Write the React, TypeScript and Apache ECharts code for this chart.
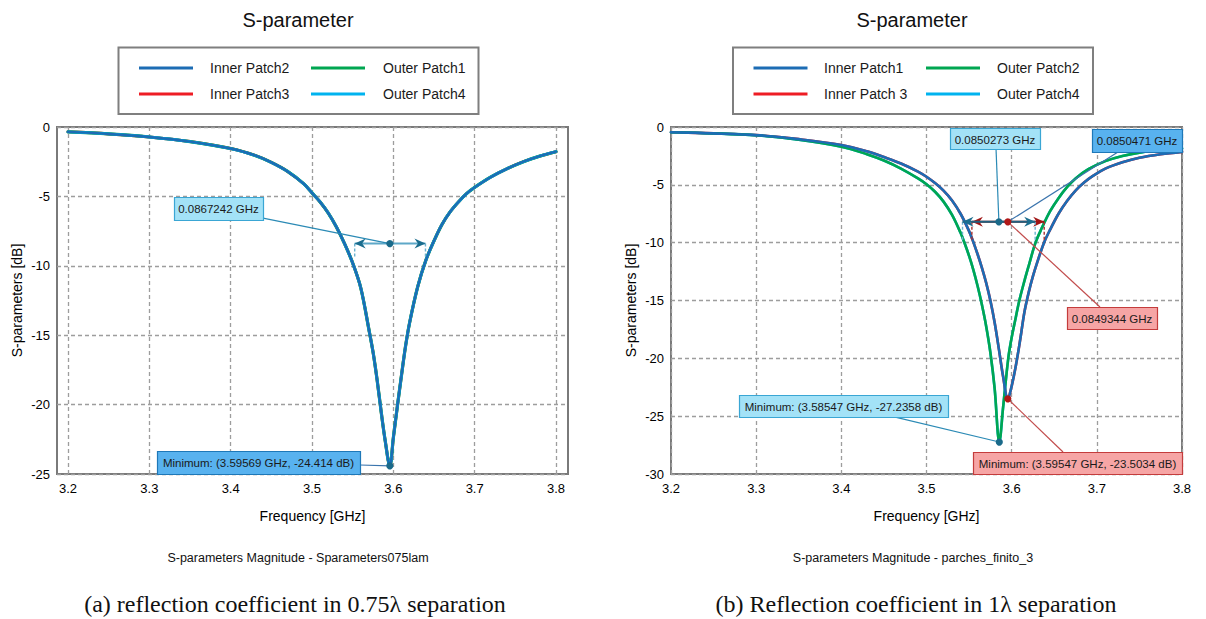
import React, { useEffect, useRef } from "react";
import * as echarts from "echarts";

type Pt = [number, number];

const SANS = '"Liberation Sans", Arial, Helvetica, sans-serif';
const SERIF = '"Liberation Serif", "Times New Roman", serif';

// ---------- texts ----------
const chartTitle = "S-parameter";
const xAxisName = "Frequency [GHz]";
const yAxisName = "S-parameters [dB]";
const sourceA = "S-parameters Magnitude - Sparameters075lam";
const sourceB = "S-parameters Magnitude - parches_finito_3";
const captionA = "(a) reflection coefficient in 0.75\u03bb separation";
const captionB = "(b) Reflection coefficient in 1\u03bb separation";

// ---------- ticks ----------
const freqTicks = [3.2, 3.3, 3.4, 3.5, 3.6, 3.7, 3.8];

// ---------- panel (a) data : all four ports coincide ----------
const namesA = ["Inner Patch2", "Inner Patch3", "Outer Patch1", "Outer Patch4"];
const s11A: Pt[] = [
  [3.2, -0.35], [3.25, -0.5], [3.3, -0.72], [3.35, -1.05], [3.4, -1.55], [3.43, -2.05],
  [3.45, -2.55], [3.47, -3.2], [3.49, -4.1], [3.5, -4.75], [3.51, -5.4], [3.52, -6.2],
  [3.53, -7.2], [3.54, -8.4], [3.55, -9.8], [3.56, -11.6], [3.57, -14.6], [3.575, -16.2],
  [3.58, -18.2], [3.585, -20.5], [3.59, -22.6], [3.5957, -24.41], [3.6, -22.4], [3.605, -20.1],
  [3.61, -17.9], [3.615, -15.8], [3.62, -14.1], [3.63, -11.5], [3.64, -9.6], [3.65, -8.2],
  [3.66, -7.0], [3.67, -6.1], [3.68, -5.4], [3.69, -4.8], [3.7, -4.35], [3.72, -3.6],
  [3.74, -3.0], [3.76, -2.5], [3.78, -2.1], [3.8, -1.78],
];

// ---------- panel (b) data ----------
const namesB = ["Inner Patch1", "Inner Patch 3", "Outer Patch2", "Outer Patch4"];
// inner patches (Inner Patch1 and Inner Patch 3 overlap)
const innerB: Pt[] = [
  [3.2, -0.45], [3.25, -0.55], [3.3, -0.7], [3.35, -1.05], [3.4, -1.55], [3.43, -2.1],
  [3.45, -2.6], [3.47, -3.15], [3.49, -3.85], [3.5, -4.3], [3.51, -4.85], [3.52, -5.5],
  [3.53, -6.35], [3.54, -7.5], [3.55, -9.0], [3.555, -9.95], [3.56, -11.0], [3.565, -12.15],
  [3.57, -13.45], [3.575, -15.0], [3.58, -16.9], [3.585, -19.2], [3.59, -21.6], [3.5955, -23.5],
  [3.6, -22.4], [3.605, -20.6], [3.61, -18.4], [3.615, -16.0], [3.62, -14.3], [3.625, -12.9],
  [3.63, -11.7], [3.638, -10.0], [3.645, -8.9], [3.655, -7.5], [3.665, -6.4], [3.675, -5.5],
  [3.685, -4.8], [3.695, -4.25], [3.71, -3.6], [3.73, -3.05], [3.75, -2.65], [3.775, -2.35], [3.8, -2.15],
];
// outer patches (Outer Patch2 and Outer Patch4 overlap)
const outerB: Pt[] = [
  [3.2, -0.45], [3.25, -0.55], [3.3, -0.72], [3.35, -1.1], [3.4, -1.7], [3.43, -2.35],
  [3.45, -2.9], [3.47, -3.6], [3.49, -4.45], [3.5, -4.95], [3.51, -5.6], [3.52, -6.45],
  [3.53, -7.6], [3.54, -9.15], [3.545, -10.1], [3.55, -11.15], [3.555, -12.35], [3.56, -13.75],
  [3.565, -15.35], [3.57, -17.2], [3.575, -19.5], [3.58, -22.6], [3.5855, -27.24], [3.59, -24.2],
  [3.596, -20.0], [3.6, -18.2], [3.605, -16.4], [3.609, -15.0], [3.615, -13.3], [3.62, -12.0],
  [3.628, -10.0], [3.635, -8.8], [3.645, -7.3], [3.655, -6.15], [3.665, -5.2], [3.675, -4.45],
  [3.69, -3.65], [3.71, -2.95], [3.73, -2.5], [3.755, -2.15], [3.78, -1.95], [3.8, -1.85],
];

// ---------- annotations (values from markers) ----------
const bandwidthA = [{ from: 3.5525, to: 3.6395, center: 3.5957, level: -8.4, drop: -9.4, tone: "tealLight" }];
const labelsA = [
  { text: "0.0867242 GHz", box: [3.3303, -5.04] as Pt, w: 89, h: 23, tone: "cyan", from: [3.4398, -6.56] as Pt, to: [3.5957, -8.4] as Pt },
  { text: "Minimum: (3.59569 GHz, -24.414 dB)", box: [3.3094, -23.34] as Pt, w: 203, h: 23, tone: "blue", from: [3.559, -24.35] as Pt, to: [3.59569, -24.414] as Pt },
];
const dotsA = [
  { at: [3.5957, -8.4] as Pt, tone: "teal" },
  { at: [3.59569, -24.414] as Pt, tone: "teal" },
];

const bandwidthB = [
  { from: 3.5533, to: 3.6382, center: 3.5955, level: -8.2, drop: -9.9, tone: "red" },
  { from: 3.5423, to: 3.6276, center: 3.585, level: -8.2, drop: -9.9, tone: "teal" },
];
const labelsB = [
  { text: "0.0850273 GHz", box: [3.5276, -0.09] as Pt, w: 90, h: 21, tone: "cyan", from: [3.5816, -1.82] as Pt, to: [3.585, -8.2] as Pt },
  { text: "0.0850471 GHz", box: [3.6943, -0.17] as Pt, w: 90, h: 23, tone: "blue", from: [3.7248, -2.16] as Pt, to: [3.5955, -8.2] as Pt },
  { text: "0.0849344 GHz", box: [3.665, -15.56] as Pt, w: 90, h: 22, tone: "red", from: [3.7037, -15.56] as Pt, to: [3.5955, -8.2] as Pt },
  { text: "Minimum: (3.58547 GHz, -27.2358 dB)", box: [3.2798, -23.17] as Pt, w: 209, h: 22, tone: "cyan", from: [3.4571, -24.98] as Pt, to: [3.58547, -27.2358] as Pt },
  { text: "Minimum: (3.59547 GHz, -23.5034 dB)", box: [3.5546, -28.1] as Pt, w: 209, h: 22, tone: "red", from: [3.6603, -28.1] as Pt, to: [3.59547, -23.5034] as Pt },
];
const dotsB = [
  { at: [3.585, -8.2] as Pt, tone: "teal" },
  { at: [3.5955, -8.2] as Pt, tone: "red" },
  { at: [3.58547, -27.2358] as Pt, tone: "teal" },
  { at: [3.59547, -23.5034] as Pt, tone: "red" },
];

// ---------- styles ----------
const colors = { blue: "#1c6cb4", red: "#ee1c24", green: "#00a651", cyan: "#00b3ef" };
const bwTones: any = {
  tealLight: { arrow: "#1b6d8e", line: "#5ea8c8", dash: "#6db3cf" },
  teal: { arrow: "#1b6d8e", line: "#22607f", dash: "#6db3cf" },
  red: { arrow: "#a01515", line: "#8c1a1a", dash: "#a83030" },
};
const boxTones: any = {
  cyan: { fill: "#a3e2f7", stroke: "#3aa6d4", leader: "#2b8ab5" },
  blue: { fill: "#58b2ef", stroke: "#1e78b8", leader: "#3a74ad" },
  red: { fill: "#f6a5a5", stroke: "#c43c3c", leader: "#c24d4d" },
};
const dotTones: any = { teal: "#1a6a8a", red: "#b01818" };

const annot = (bws: any[], labels: any[], dots: any[]) => (_p: any, api: any) => {
  const children: any[] = [];
  for (const b of bws) {
    const t = bwTones[b.tone];
    const p1 = api.coord([b.from, b.level]);
    const p2 = api.coord([b.to, b.level]);
    const yd = api.coord([b.from, b.drop])[1];
    const y = p1[1];
    for (const x of [p1[0], p2[0]]) {
      children.push({ type: "line", shape: { x1: x, y1: y, x2: x, y2: yd }, style: { stroke: t.dash, lineWidth: 1.4, lineDash: [3, 2] } });
    }
    children.push({ type: "line", shape: { x1: p1[0], y1: y, x2: p2[0], y2: y }, style: { stroke: t.line, lineWidth: 2 } });
    const a = 11, h = 5, n = 7.5;
    children.push({ type: "polygon", shape: { points: [[p1[0], y], [p1[0] + a, y - h], [p1[0] + n, y], [p1[0] + a, y + h]] }, style: { fill: t.arrow } });
    children.push({ type: "polygon", shape: { points: [[p2[0], y], [p2[0] - a, y - h], [p2[0] - n, y], [p2[0] - a, y + h]] }, style: { fill: t.arrow } });
  }
  for (const l of labels) {
    const t = boxTones[l.tone];
    const f = api.coord(l.from), to = api.coord(l.to), tl = api.coord(l.box);
    children.push({ type: "line", shape: { x1: f[0], y1: f[1], x2: to[0], y2: to[1] }, style: { stroke: t.leader, lineWidth: 1.2 } });
    children.push({ type: "rect", shape: { x: Math.round(tl[0]) + 0.5, y: Math.round(tl[1]) + 0.5, width: l.w, height: l.h }, style: { fill: t.fill, stroke: t.stroke, lineWidth: 1.2 } });
    children.push({
      type: "text", x: tl[0] + l.w / 2, y: tl[1] + l.h / 2 + 1,
      style: { text: l.text, fill: "#1a1a1a", font: `11.5px ${SANS}`, align: "center", verticalAlign: "middle", textAlign: "center", textVerticalAlign: "middle" },
    });
  }
  for (const d of dots) {
    const p = api.coord(d.at);
    children.push({ type: "circle", shape: { cx: p[0], cy: p[1], r: 3.6 }, style: { fill: dotTones[d.tone] } });
  }
  return { type: "group", children };
};

const lineSeries = (name: string, data: Pt[], color: string, width: number, idx: number, z: number) => ({
  type: "line", name, data, xAxisIndex: idx, yAxisIndex: idx, symbol: "none", showSymbol: false,
  smooth: 0.35, lineStyle: { color, width, join: "round", cap: "round" }, itemStyle: { color }, z, silent: true,
});

const xAxisCfg = (idx: number, min: number, max: number) => ({
  type: "value", gridIndex: idx, min, max,
  axisLine: { show: false },
  axisTick: { show: false, customValues: freqTicks },
  axisLabel: { customValues: freqTicks, formatter: (v: number) => v.toFixed(1), color: "#000", fontSize: 13, fontFamily: SANS, margin: 8 },
  splitLine: { show: true, lineStyle: { color: "#9d9d9d", width: 1.3, type: [4, 3] } },
  name: xAxisName, nameLocation: "middle", nameGap: 35,
  nameTextStyle: { color: "#000", fontSize: 14, fontFamily: SANS },
});
const yAxisCfg = (idx: number, min: number) => ({
  type: "value", gridIndex: idx, min, max: 0, interval: 5,
  axisLine: { show: false }, axisTick: { show: false },
  axisLabel: { color: "#000", fontSize: 13, fontFamily: SANS, margin: 7 },
  splitLine: { show: true, lineStyle: { color: "#9d9d9d", width: 1.3, type: [4, 3] } },
  name: yAxisName, nameLocation: "middle", nameGap: 33,
  nameTextStyle: { color: "#000", fontSize: 14, fontFamily: SANS },
});

const legendGraphic = (box: any, names: string[]) => {
  const rows = [box.y + 20.5, box.y + 46.5];
  const items = [
    { name: names[0], color: colors.blue, x: box.col1, tx: box.text1, y: rows[0] },
    { name: names[1], color: colors.red, x: box.col1, tx: box.text1, y: rows[1] },
    { name: names[2], color: colors.green, x: box.col2, tx: box.text2, y: rows[0] },
    { name: names[3], color: colors.cyan, x: box.col2, tx: box.text2, y: rows[1] },
  ];
  const els: any[] = [
    { type: "rect", shape: { x: box.x, y: box.y, width: box.w, height: box.h }, style: { fill: "#fff", stroke: "#7f7f7f", lineWidth: 2 } },
  ];
  for (const it of items) {
    els.push({ type: "line", shape: { x1: it.x, y1: it.y, x2: it.x + 54, y2: it.y }, style: { stroke: it.color, lineWidth: 3 } });
    els.push({ type: "text", x: it.tx, y: it.y, style: { text: it.name, fill: "#1a1a1a", font: `14px ${SANS}`, textAlign: "left", textVerticalAlign: "middle", align: "left", verticalAlign: "middle" } });
  }
  return els;
};

const textEl = (text: string, x: number, y: number, font: string) => ({
  type: "text", x, y,
  style: { text, fill: "#111", font, textAlign: "center", textVerticalAlign: "middle", align: "center", verticalAlign: "middle" },
});

export default function App() {
  const ref = useRef<HTMLDivElement>(null);
  useEffect(() => {
    if (!ref.current) return;
    const chart = echarts.init(ref.current, null, { renderer: "svg" });
    const gridBase = { top: 127, width: 511, height: 347, show: true, borderColor: "#7a7a7a", borderWidth: 2, backgroundColor: "#fff" };
    chart.setOption({
      animation: false,
      backgroundColor: "#fff",
      textStyle: { fontFamily: SANS },
      grid: [
        { ...gridBase, left: 57 },
        { ...gridBase, left: 671 },
      ],
      xAxis: [xAxisCfg(0, 3.18647, 3.81475), xAxisCfg(1, 3.2, 3.8)],
      yAxis: [yAxisCfg(0, -25), yAxisCfg(1, -30)],
      series: [
        lineSeries(namesA[1], s11A, colors.red, 3, 0, 2),
        lineSeries(namesA[2], s11A, colors.green, 3.2, 0, 3),
        lineSeries(namesA[3], s11A, colors.cyan, 2.8, 0, 4),
        lineSeries(namesA[0], s11A, colors.blue, 2.4, 0, 5),
        lineSeries(namesB[1], innerB, colors.red, 2.6, 1, 2),
        lineSeries(namesB[3], outerB, colors.cyan, 2.6, 1, 3),
        lineSeries(namesB[2], outerB, colors.green, 2.6, 1, 4),
        lineSeries(namesB[0], innerB, colors.blue, 2.6, 1, 5),
        { type: "custom", xAxisIndex: 0, yAxisIndex: 0, data: [[3.5, -10]], renderItem: annot(bandwidthA, labelsA, dotsA), z: 10, silent: true, clip: false },
        { type: "custom", xAxisIndex: 1, yAxisIndex: 1, data: [[3.5, -10]], renderItem: annot(bandwidthB, labelsB, dotsB), z: 10, silent: true, clip: false },
      ],
      graphic: {
        elements: [
          textEl(chartTitle, 298, 20, `20px ${SANS}`),
          textEl(chartTitle, 912, 20, `20px ${SANS}`),
          ...legendGraphic({ x: 118.5, y: 47.5, w: 360, h: 66.5, col1: 139, col2: 311, text1: 210, text2: 383 }, namesA),
          ...legendGraphic({ x: 733, y: 47.5, w: 360, h: 66.5, col1: 753.5, col2: 926, text1: 824, text2: 997 }, namesB),
          textEl(sourceA, 298, 558, `12.5px ${SANS}`),
          textEl(sourceB, 913, 558, `12.5px ${SANS}`),
          textEl(captionA, 295, 604, `24px ${SERIF}`),
          textEl(captionB, 916, 604, `24px ${SERIF}`),
        ],
      },
    });
    return () => chart.dispose();
  }, []);
  return <div ref={ref} style={{ position: "absolute", left: 0, top: 0, width: 1206, height: 619 }} />;
}
